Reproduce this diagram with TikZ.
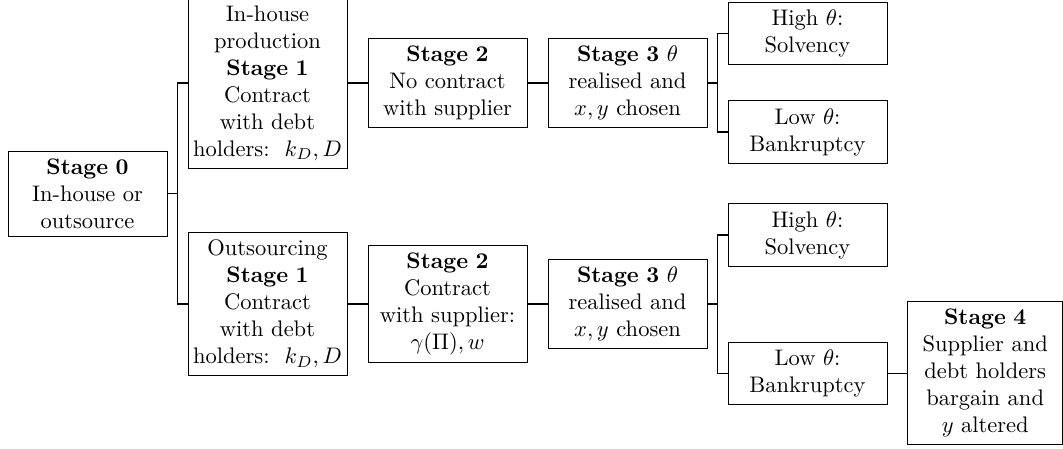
\documentclass[tikz,border=0pt]{standalone}
\usetikzlibrary{positioning}
\begin{document}
\begin{tikzpicture}[x=0.4444pt,y=-0.4444pt,
  box/.style={draw,line width=0.4pt,text width=2.25cm,align=center,inner sep=0.3333em},
  conn/.style={line width=0.6pt}]
\useasboundingbox (0,0) rectangle (1063,448);
% level 0
\node[box] (s0) at (87.5,193.5) {\textbf{Stage 0}\\In-house or\\outsource};
% level 1
\node[box] (s1a) at (267.5,83) {In-house\\production\\\textbf{Stage 1}\\Contract\\with debt\\\makebox[\linewidth]{holders:\, $k_D,D$}};
\node[box] (s1b) at (267.5,304) {Outsourcing\\\textbf{Stage 1}\\Contract\\with debt\\\makebox[\linewidth]{holders:\, $k_D,D$}};
% level 2
\node[box] (s2a) at (447.5,83) {\textbf{Stage 2}\\No contract\\with supplier};
\node[box] (s2b) at (447.5,304) {\textbf{Stage 2}\\Contract\\with supplier:\\$\gamma(\Pi),w$};
% level 3
\node[box] (s3a) at (627.5,83) {\textbf{Stage 3} $\theta$\\realised and\\$x,y$ chosen};
\node[box] (s3b) at (627.5,304) {\textbf{Stage 3} $\theta$\\realised and\\$x,y$ chosen};
% level 4
\node[box] (ha) at (807.5,33.8) {High $\theta$:\\Solvency};
\node[box] (la) at (807.5,132) {Low $\theta$:\\Bankruptcy};
\node[box] (hb) at (807.5,235) {High $\theta$:\\Solvency};
\node[box] (lb) at (807.5,373.3) {Low $\theta$:\\Bankruptcy};
% level 5
\node[box,text width=62.2pt] (s4) at (985.2,373.3) {\textbf{Stage 4}\\Supplier and\\debt holders\\bargain and\\$y$ altered};
% connectors
\draw[conn] (s0.east) -- ([xshift=4.444pt]s0.east) |- (s1a.west);
\draw[conn] ([xshift=4.444pt]s0.east) |- (s1b.west);
\draw[conn] (s1a) -- (s2a);
\draw[conn] (s2a) -- (s3a);
\draw[conn] (s1b) -- (s2b);
\draw[conn] (s2b) -- (s3b);
\draw[conn] (s3a.east) -- ([xshift=4.444pt]s3a.east) |- (ha.west);
\draw[conn] ([xshift=4.444pt]s3a.east) |- (la.west);
\draw[conn] (s3b.east) -- ([xshift=4.444pt]s3b.east) |- (hb.west);
\draw[conn] ([xshift=4.444pt]s3b.east) |- (lb.west);
\draw[conn] (lb) -- (s4);
\end{tikzpicture}
\end{document}
